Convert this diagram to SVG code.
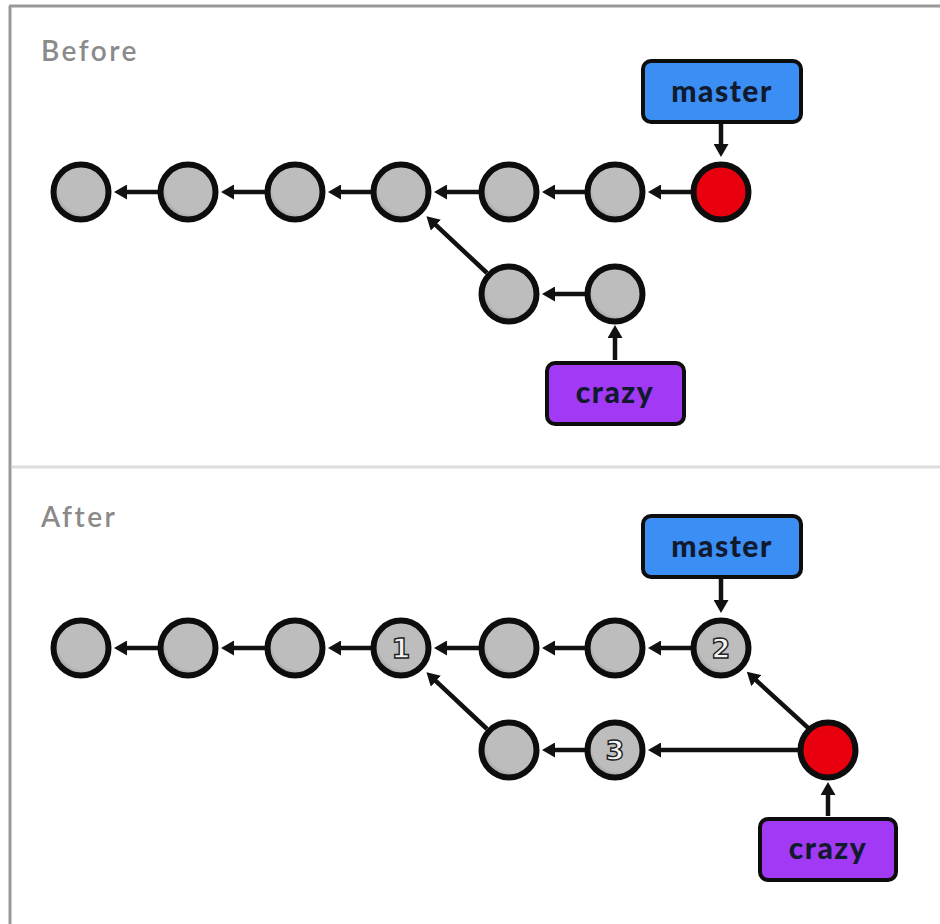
<svg xmlns="http://www.w3.org/2000/svg" width="940" height="924" viewBox="0 0 940 924">
<defs>
<marker id="ah" viewBox="0 0 13 15" refX="4" refY="7.5" markerWidth="13" markerHeight="15" markerUnits="userSpaceOnUse" orient="auto">
<path d="M0,0 L13,7.5 L0,15 Z" fill="#111"/>
</marker>
<radialGradient id="gg" cx="0.58" cy="0.4" r="0.62">
<stop offset="0.8" stop-color="#bdbdbd"/>
<stop offset="1" stop-color="#9a9a9a"/>
</radialGradient>
</defs>
<style>
.c{fill:url(#gg);stroke:#0d0d0d;stroke-width:6}
.r{fill:#e8000e;stroke:#0d0d0d;stroke-width:6}
.e{stroke:#111;stroke-width:4.5;fill:none;marker-end:url(#ah)}
.bm{fill:#3a8ef4;stroke:#0d0d0d;stroke-width:4}
.bc{fill:#a23af5;stroke:#0d0d0d;stroke-width:4}
.lb{font-family:Lato,"Open Sans",sans-serif;font-weight:900;font-size:30px;fill:#111a2e;text-anchor:middle;letter-spacing:1.5px}
.t{font-family:Lato,"Open Sans",sans-serif;font-weight:600;font-size:28px;fill:#8a8a8a;letter-spacing:2.5px}
.n{font-family:"DejaVu Sans",sans-serif;font-weight:bold;font-size:27px;fill:#f4f4f4;stroke:#222;stroke-width:1.4;text-anchor:middle}
</style>
<rect width="940" height="924" fill="#fff"/>
<line x1="9" y1="6" x2="940" y2="6" stroke="#999" stroke-width="3"/>
<line x1="10" y1="6" x2="10" y2="924" stroke="#999" stroke-width="3"/>
<line x1="12" y1="467" x2="940" y2="467" stroke="#ddd" stroke-width="3"/>
<text class="t" x="41" y="61">Before</text>
<text class="t" x="41" y="527">After</text>
<g id="connectors">
<line class="e" x1="158" y1="192" x2="123" y2="192"/>
<line class="e" x1="265" y1="192" x2="230" y2="192"/>
<line class="e" x1="371" y1="192" x2="337" y2="192"/>
<line class="e" x1="479" y1="192" x2="443" y2="192"/>
<line class="e" x1="585" y1="192" x2="551" y2="192"/>
<line class="e" x1="691" y1="192" x2="657" y2="192"/>
<line class="e" x1="585" y1="294" x2="551" y2="294"/>
<line class="e" x1="487" y1="273" x2="433" y2="222.4"/>
<line class="e" x1="721" y1="124" x2="721" y2="148"/>
<line class="e" x1="615" y1="360" x2="615" y2="334"/>
<line class="e" x1="158" y1="648" x2="123" y2="648"/>
<line class="e" x1="265" y1="648" x2="230" y2="648"/>
<line class="e" x1="371" y1="648" x2="337" y2="648"/>
<line class="e" x1="479" y1="648" x2="443" y2="648"/>
<line class="e" x1="585" y1="648" x2="551" y2="648"/>
<line class="e" x1="691" y1="648" x2="657" y2="648"/>
<line class="e" x1="585" y1="750" x2="551" y2="750"/>
<line class="e" x1="802" y1="750" x2="657" y2="750"/>
<line class="e" x1="487" y1="729" x2="433" y2="678.4"/>
<line class="e" x1="810" y1="729.7" x2="753.4" y2="677.8"/>
<line class="e" x1="721" y1="579" x2="721" y2="604"/>
<line class="e" x1="828" y1="816" x2="828" y2="791"/>
</g>
<g id="b1"><circle class="c" cx="81" cy="192" r="27.5"/></g>
<g id="b2"><circle class="c" cx="188" cy="192" r="27.5"/></g>
<g id="b3"><circle class="c" cx="295" cy="192" r="27.5"/></g>
<g id="b4"><circle class="c" cx="401" cy="192" r="27.5"/></g>
<g id="b5"><circle class="c" cx="509" cy="192" r="27.5"/></g>
<g id="b6"><circle class="c" cx="615" cy="192" r="27.5"/></g>
<g id="b7"><circle class="r" cx="721" cy="192" r="27.5"/></g>
<g id="b8"><circle class="c" cx="509" cy="294" r="27.5"/></g>
<g id="b9"><circle class="c" cx="615" cy="294" r="27.5"/></g>
<g id="bmaster"><rect class="bm" x="643" y="61" width="158" height="61" rx="8"/><text class="lb" x="722" y="102">master</text></g>
<g id="bcrazy"><rect class="bc" x="547" y="363" width="137" height="61" rx="8"/><text class="lb" x="615" y="403">crazy</text></g>
<g id="a1"><circle class="c" cx="81" cy="648" r="27.5"/></g>
<g id="a2"><circle class="c" cx="188" cy="648" r="27.5"/></g>
<g id="a3"><circle class="c" cx="295" cy="648" r="27.5"/></g>
<g id="a4"><circle class="c" cx="401" cy="648" r="27.5"/><text class="n" x="401" y="658">1</text></g>
<g id="a5"><circle class="c" cx="509" cy="648" r="27.5"/></g>
<g id="a6"><circle class="c" cx="615" cy="648" r="27.5"/></g>
<g id="a7"><circle class="c" cx="721" cy="648" r="27.5"/><text class="n" x="721" y="658">2</text></g>
<g id="a8"><circle class="c" cx="509" cy="750" r="27.5"/></g>
<g id="a9"><circle class="c" cx="615" cy="750" r="27.5"/><text class="n" x="615" y="760">3</text></g>
<g id="a10"><circle class="r" cx="828" cy="750" r="27.5"/></g>
<g id="amaster"><rect class="bm" x="643" y="516" width="158" height="61" rx="8"/><text class="lb" x="722" y="557">master</text></g>
<g id="acrazy"><rect class="bc" x="760" y="819" width="136" height="61" rx="8"/><text class="lb" x="828" y="859">crazy</text></g>
</svg>
